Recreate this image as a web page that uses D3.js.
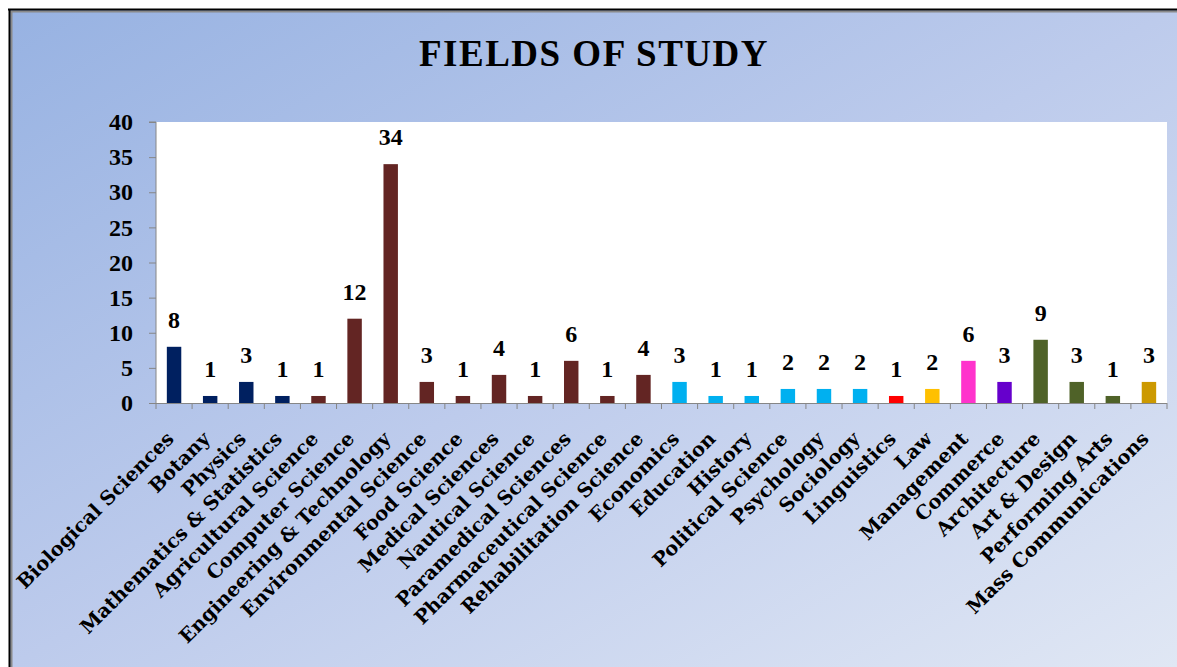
<!DOCTYPE html>
<html><head><meta charset="utf-8">
<script src="https://cdnjs.cloudflare.com/ajax/libs/d3/7.8.5/d3.min.js"></script>
<style>html,body{margin:0;padding:0;background:#fff;overflow:hidden}</style>
</head><body>
<svg id="c" width="1177" height="667"></svg>
<script>
const categories = ["Biological Sciences","Botany","Physics","Mathematics & Statistics","Agricultural Science","Computer Science","Engineering & Technology","Environmental Science","Food Science","Medical Sciences","Nautical Science","Paramedical Sciences","Pharmaceutical Science","Rehabilitation Science","Economics","Education","History","Political Science","Psychology","Sociology","Linguistics","Law","Management","Commerce","Architecture","Art & Design","Performing Arts","Mass Communications"];
const values = [8,1,3,1,1,12,34,3,1,4,1,6,1,4,3,1,1,2,2,2,1,2,6,3,9,3,1,3];
const barColors = ["#002060","#002060","#002060","#002060","#632523","#632523","#632523","#632523","#632523","#632523","#632523","#632523","#632523","#632523","#00b0f0","#00b0f0","#00b0f0","#00b0f0","#00b0f0","#00b0f0","#ff0000","#ffc000","#ff33cc","#6600cc","#4f6228","#4f6228","#4f6228","#cc9900"];
const yTicks = [0,5,10,15,20,25,30,35,40];
const title = "FIELDS OF STUDY";

const svg = d3.select("#c");
const defs = svg.append("defs");
const g = defs.append("linearGradient").attr("id","bg").attr("x1","0").attr("y1","0").attr("x2","1").attr("y2","1");
g.append("stop").attr("offset","0").attr("stop-color","#97b2e2");
g.append("stop").attr("offset","0.5").attr("stop-color","#bdcbec");
g.append("stop").attr("offset","1").attr("stop-color","#e0e7f4");

svg.append("rect").attr("x",9).attr("y",9).attr("width",1168).attr("height",658).attr("fill","url(#bg)");
svg.append("line").attr("x1",9).attr("x2",1177).attr("y1",11.5).attr("y2",11.5).attr("stroke","#8a8a8a").attr("stroke-width",2);
svg.append("line").attr("x1",11.5).attr("x2",11.5).attr("y1",11).attr("y2",667).attr("stroke","#8a8a8a").attr("stroke-width",2);
svg.append("line").attr("x1",8).attr("x2",1177).attr("y1",9.5).attr("y2",9.5).attr("stroke","#000").attr("stroke-width",2);
svg.append("line").attr("x1",9.5).attr("x2",9.5).attr("y1",9).attr("y2",667).attr("stroke","#000").attr("stroke-width",2);

const L=156, R=1167, T=122, B=403;
const x = d3.scaleBand().domain(categories).range([L,R]).paddingInner(0.6).paddingOuter(0.3);
const xb = d3.scaleBand().domain(categories).range([L,R]).padding(0);
const y = d3.scaleLinear().domain([0,40]).range([B,T]);

svg.append("rect").attr("x",L).attr("y",T).attr("width",R-L).attr("height",B-T).attr("fill","#fff");

svg.append("text").attr("x",594).attr("y",66).attr("text-anchor","middle")
  .attr("font-family","'Liberation Serif',serif").attr("font-weight","bold").attr("font-size",37)
  .attr("letter-spacing",1.5).attr("fill","#000").text(title);

// bars
svg.selectAll("rect.bar").data(categories).enter().append("rect").attr("class","bar")
  .attr("x",d=>x(d)).attr("width",x.bandwidth())
  .attr("y",(d,i)=>y(values[i])).attr("height",(d,i)=>y(0)-y(values[i]))
  .attr("fill",(d,i)=>barColors[i]);

// value labels
svg.selectAll("text.val").data(categories).enter().append("text").attr("class","val")
  .attr("x",d=>x(d)+x.bandwidth()/2).attr("y",(d,i)=>y(values[i])-19)
  .attr("text-anchor","middle").attr("font-family","'Liberation Serif',serif")
  .attr("font-weight","bold").attr("font-size",24).attr("fill","#000")
  .text((d,i)=>values[i]);

// y axis
const yAxis = d3.axisLeft(y).tickValues(yTicks).tickSize(7).tickPadding(16);
const ya = svg.append("g").attr("transform",`translate(${L},0)`).call(yAxis);
ya.select(".domain").attr("stroke","#868686").attr("d",`M-7,${T}H0V${B}`);
ya.selectAll(".tick line").attr("stroke","#868686");
ya.selectAll(".tick text").attr("font-family","'Liberation Serif',serif").attr("font-weight","bold").attr("font-size",24).attr("fill","#000");

// x axis
const xa = svg.append("g").attr("transform",`translate(0,${B})`);
xa.append("line").attr("x1",L).attr("x2",R).attr("y1",0.5).attr("y2",0.5).attr("stroke","#868686");
xa.selectAll("line.tk").data(categories.concat(["__end"])).enter().append("line").attr("class","tk")
  .attr("x1",(d,i)=>L+i*xb.bandwidth()).attr("x2",(d,i)=>L+i*xb.bandwidth())
  .attr("y1",0).attr("y2",6).attr("stroke","#868686");

svg.selectAll("text.cat").data(categories).enter().append("text").attr("class","cat")
  .attr("transform",d=>`translate(${xb(d)+xb.bandwidth()/2+1},440) rotate(-45)`)
  .attr("text-anchor","end").attr("font-family","'DejaVu Serif',serif").attr("font-weight","bold")
  .attr("font-size",19.5).attr("fill","#000").text(d=>d);
</script>
</body></html>
